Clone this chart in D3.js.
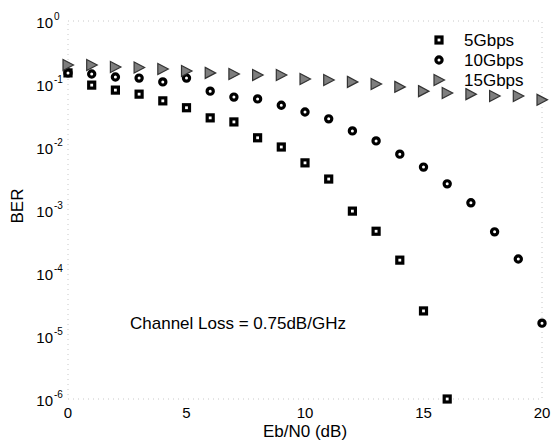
<!DOCTYPE html>
<html>
<head>
<meta charset="utf-8">
<script src="https://cdn.jsdelivr.net/npm/d3@7"></script>
<style>
  body { margin: 0; background: #fff; }
  svg text { font-family: Arial, "Liberation Sans", sans-serif; fill: #000; }
</style>
</head>
<body>
<div class="svg"></div>
<script>
// Eb/N0 (dB) sample points
var ebn0 = d3.range(0, 21);

// BER
var ber5 = [0.15, 0.096, 0.080, 0.069, 0.054, 0.042, 0.029, 0.025, 0.014, 0.010, 0.0056,
            0.0031, 9.6e-4, 4.6e-4, 1.6e-4, 2.5e-5, 1.0e-6];
var ber10 = [0.15, 0.144, 0.129, 0.124, 0.108, 0.124, 0.077, 0.062, 0.058, 0.046, 0.036,
             0.028, 0.018, 0.0125, 0.0077, 0.0048, 0.0026, 0.0013, 4.5e-4, 1.67e-4, 1.6e-5];
var ber15 = [0.2, 0.2, 0.186, 0.183, 0.173, 0.161, 0.15, 0.144, 0.139, 0.139, 0.12,
             0.116, 0.108, 0.1, 0.09, 0.077, 0.072, 0.069, 0.0645, 0.0645, 0.056];

var seriesNames = ["5Gbps", "10Gbps", "15Gbps"];
var xTicks = [0, 5, 10, 15, 20];
var yExps = [0, -1, -2, -3, -4, -5, -6];

function drawpicture() {
    var width = 557,
        height = 441;

    var svg = d3.select(".svg").append("svg")
        .attr("width", width)
        .attr("height", height);

    var x = d3.scaleLinear().domain([0, 20]).range([68, 542]);
    var y = d3.scaleLog().domain([1e-6, 1]).range([399, 21]);

    // faint dotted frame
    svg.append("rect")
        .attr("x", x(0)).attr("y", y(1))
        .attr("width", x(20) - x(0)).attr("height", y(1e-6) - y(1))
        .attr("fill", "none")
        .attr("stroke", "#c8c8c8")
        .attr("stroke-width", 1)
        .attr("stroke-dasharray", "1,4");

    // y axis labels 10^n
    var yLab = svg.append("g");
    yExps.forEach(function (e) {
        yLab.append("text")
            .attr("x", 53)
            .attr("y", y(Math.pow(10, e)) + 7)
            .attr("text-anchor", "end")
            .style("font-size", "15px")
            .text("10");
        yLab.append("text")
            .attr("x", 54)
            .attr("y", y(Math.pow(10, e)) - 1)
            .style("font-size", "10px")
            .text(e === 0 ? "0" : "-" + (-e));
    });

    // x axis labels
    svg.append("g").selectAll("text")
        .data(xTicks)
        .enter().append("text")
        .attr("x", function (d) { return x(d); })
        .attr("y", 418)
        .attr("text-anchor", "middle")
        .style("font-size", "15px")
        .text(function (d) { return d; });

    svg.append("text")
        .attr("x", 305).attr("y", 437)
        .attr("text-anchor", "middle")
        .style("font-size", "17px")
        .text("Eb/N0 (dB)");

    svg.append("text")
        .attr("transform", "translate(23,206) rotate(-90)")
        .attr("text-anchor", "middle")
        .style("font-size", "17px")
        .text("BER");

    svg.append("text")
        .attr("x", 130).attr("y", 329)
        .style("font-size", "17px")
        .text("Channel Loss = 0.75dB/GHz");

    // marker painters
    function square(g) {
        g.append("rect")
            .attr("x", -3).attr("y", -3)
            .attr("width", 6).attr("height", 6)
            .attr("fill", "#fff")
            .attr("stroke", "#000")
            .attr("stroke-width", 3.2);
    }
    function ring(g) {
        g.append("circle")
            .attr("r", 3.1)
            .attr("fill", "#fff")
            .attr("stroke", "#000")
            .attr("stroke-width", 3.2);
    }
    function tri(g) {
        g.append("path")
            .attr("d", "M-5,-5.5L5.5,0L-5,5.5Z")
            .attr("fill", "#7e7e7e")
            .attr("stroke", "#333")
            .attr("stroke-width", 1.2);
    }
    var painters = [square, ring, tri];
    var allData = [ber5, ber10, ber15];

    allData.forEach(function (vals, k) {
        svg.append("g").selectAll("g")
            .data(vals)
            .enter().append("g")
            .attr("transform", function (d, i) {
                return "translate(" + x(ebn0[i]) + "," + y(d) + ")";
            })
            .each(function () { painters[k](d3.select(this)); });
    });

    // legend
    var leg = svg.append("g");
    seriesNames.forEach(function (name, k) {
        var ly = 40 + k * 20;
        var m = leg.append("g").attr("transform", "translate(439," + ly + ")");
        painters[k](m);
        leg.append("text")
            .attr("x", 464).attr("y", ly + 6)
            .style("font-size", "17px")
            .text(name);
    });
}

drawpicture();
</script>
</body>
</html>
